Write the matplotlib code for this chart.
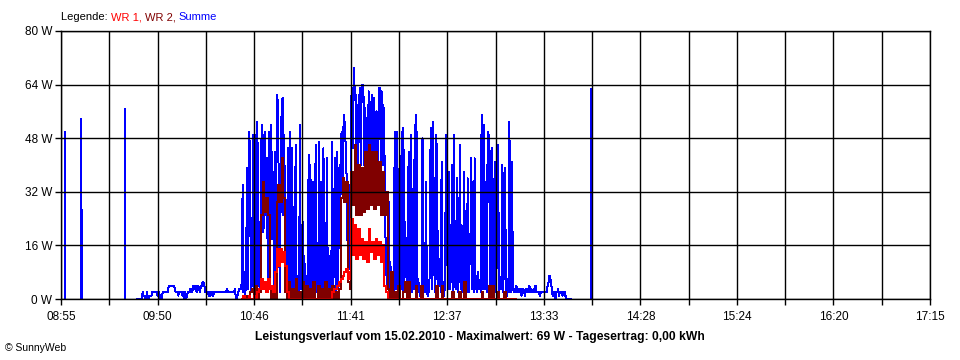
import numpy as np
import matplotlib
matplotlib.use('Agg')
import matplotlib.pyplot as plt

plt.rcParams['font.family'] = ['Liberation Sans', 'DejaVu Sans']

# Summe (W), 0,5-min-Raster ab Minute 44 nach 08:55
summe_start = 44.0
summe = [
    0, 0, 0, 0, 0, 0, 2, 1, 1, 0, 0, 2, 0, 0, 1, 1, 1, 2, 2, 2,
    2, 2, 2, 1, 2, 2, 0, 0, 0, 2, 2, 2, 2, 2, 2, 2, 4, 4, 4, 4,
    4, 4, 4, 3, 2, 2, 2, 1, 2, 2, 2, 2, 1, 2, 0, 2, 0, 1, 2, 2,
    2, 3, 2, 2, 4, 3, 4, 4, 2, 4, 4, 3, 2, 4, 4, 5, 5, 4, 2, 2,
    2, 2, 1, 2, 1, 2, 2, 1, 2, 2, 2, 2, 2, 2, 2, 2, 2, 2, 2, 2,
    2, 2, 2, 3, 2, 2, 2, 2, 2, 2, 2, 2, 3, 1, 0, 1, 2, 3, 3, 3,
    5, 34, 2, 8, 1, 6, 39, 3, 50, 47, 20, 2, 10, 49, 3, 49, 48, 2, 53, 4,
    23, 3, 37, 52, 41, 20, 49, 50, 25, 42, 4, 50, 24, 42, 52, 18, 38, 3, 44, 2,
    42, 61, 51, 15, 2, 42, 59, 60, 25, 49, 3, 11, 2, 45, 6, 2, 50, 3, 45, 2,
    12, 2, 46, 5, 1, 7, 2, 52, 3, 6, 23, 2, 13, 2, 7, 1, 4, 43, 2, 40,
    3, 10, 35, 2, 6, 46, 2, 15, 3, 47, 2, 35, 4, 2, 45, 3, 11, 2, 42, 3,
    13, 2, 8, 2, 47, 3, 9, 42, 2, 5, 44, 3, 39, 28, 47, 50, 30, 51, 55, 47,
    47, 30, 12, 10, 9, 30, 60, 63, 45, 69, 62, 61, 45, 58, 40, 59, 63, 40, 63, 64,
    63, 40, 57, 40, 54, 35, 62, 59, 40, 57, 61, 40, 60, 51, 40, 56, 55, 40, 63, 63,
    40, 62, 40, 58, 50, 23, 12, 3, 10, 29, 2, 11, 3, 1, 5, 2, 50, 3, 6, 50,
    2, 11, 3, 8, 50, 2, 51, 4, 23, 12, 2, 5, 44, 2, 7, 49, 2, 8, 3, 52,
    3, 55, 2, 6, 3, 1, 4, 2, 48, 3, 5, 2, 35, 3, 1, 2, 4, 43, 51, 3,
    53, 26, 2, 6, 49, 27, 2, 6, 12, 2, 41, 3, 5, 1, 6, 49, 33, 3, 38, 18,
    3, 12, 40, 2, 49, 18, 3, 9, 36, 2, 9, 46, 3, 22, 2, 9, 38, 3, 12, 2,
    36, 2, 10, 13, 42, 3, 35, 2, 42, 3, 7, 2, 8, 3, 5, 2, 55, 16, 3, 52,
    3, 24, 2, 50, 29, 49, 2, 8, 45, 3, 8, 41, 2, 6, 27, 46, 2, 6, 3, 7,
    40, 2, 21, 39, 3, 1, 6, 2, 53, 3, 2, 41, 4, 2, 3, 2, 4, 3, 2, 3,
    2, 3, 1, 2, 3, 2, 1, 3, 2, 3, 2, 4, 2, 3, 2, 2, 3, 2, 4, 2,
    2, 2, 2, 1, 2, 2, 2, 2, 2, 2, 2, 2, 4, 5, 7, 6, 5, 2, 1, 2,
    2, 0, 2, 2, 3, 1, 2, 2, 2, 1, 2, 2, 2, 0, 0, 0, 0, 0, 0, 0,
]

# WR 1 / WR 2 (W), 1-min-Raster ab Minute 104
wr_start = 104
wr1 = [
    0, 1, 0, 0, 1, 0, 0, 1, 0, 2,
    3, 6, 3, 5, 2, 6, 3, 4, 2, 8,
    15, 10, 15, 11, 14, 10, 2,
    0, 0, 0, 0, 0, 0, 0, 0, 0, 0, 0, 0, 0, 0, 0, 0, 0, 0, 0, 0, 0, 0, 0, 0, 0,
    2, 3, 3, 4, 5, 6, 7, 8, 9, 6, 8,
    24, 13, 22, 12, 21, 13, 18, 12, 17, 11, 21, 14, 17, 12, 18, 13, 17, 11, 16, 4, 2,
    0, 0, 0, 0, 0, 0, 0, 0, 0, 0, 0, 0, 0, 0, 0, 0, 0, 0, 0, 0, 0, 0, 0, 0, 0,
    0, 0, 0, 0, 0, 0, 0, 0, 0, 0, 0, 0, 0, 0, 0, 0, 0, 0, 0, 0, 0, 0, 0, 0, 0,
    0, 0, 0, 0, 0, 0, 0, 0, 0, 0, 0, 0, 0, 0, 0, 0, 0, 0, 0, 0, 0, 0, 0, 0, 0,
]
wr2 = [
    0, 0, 1, 0, 0, 2,
    3, 0, 4, 0, 2,
    25, 35, 26, 30, 25,
    3, 0, 4, 0,
    29, 34, 29, 42, 30,
    2,
    0, 5, 0, 3, 0, 6, 0, 2, 0, 5, 0, 4, 0, 3, 0, 5, 0, 0, 4, 0, 3, 0, 5, 0, 3, 0, 4, 0, 2, 0, 3,
    30, 36, 29, 35, 5,
    3,
    38, 28, 46, 25, 40, 25, 39, 26, 44, 27, 46, 28, 44, 27, 44, 28, 41, 25, 38, 25, 32,
    3, 0, 8, 0, 2, 0, 4, 0, 0, 2,
    5, 0, 5, 0, 0, 0, 4, 0, 0, 4,
    0, 0, 0, 0, 0, 0, 0, 0, 4, 0,
    0, 4, 0, 0, 0, 0, 0, 2, 0, 0,
    0, 2, 0, 0, 5, 0, 0, 0, 0, 0,
    0, 0, 0, 0, 2, 0, 0, 0, 4, 0,
    4, 0, 0, 2, 0, 0, 0, 2, 0, 0,
    0, 0, 0, 0, 0,
]

# einzelne Spitzen der Summe
spike_min = [2.5, 11.5, 12.0, 37.0, 305.0]
spike_w = [50, 54, 27, 57, 63]

x_labels = ['08:55', '09:50', '10:46', '11:41', '12:37',
            '13:33', '14:28', '15:24', '16:20', '17:15']
y_ticks = [0, 16, 32, 48, 64, 80]
day_len = 500  # Minuten 08:55 .. 17:15

C_SUM = '#0000ff'
C_WR1 = '#ff0000'
C_WR2 = '#800000'

fig = plt.figure(figsize=(9.6, 3.6), dpi=100)
ax = fig.add_axes([61 / 960, 61 / 360, 869 / 960, 268 / 360])

t_sum = summe_start + 0.5 * np.arange(len(summe))
t_wr = wr_start + np.arange(len(wr1))

ax.plot(t_sum, summe, color=C_SUM, lw=0.72, antialiased=False, zorder=2)
ax.vlines(spike_min, 0, spike_w, color=C_SUM, lw=1.2, antialiased=False, zorder=2)
ax.plot(t_wr, wr2, color=C_WR2, lw=1.3, drawstyle='steps-post',
        antialiased=False, zorder=2.1)
ax.plot(t_wr, wr1, color=C_WR1, lw=1.1, drawstyle='steps-post',
        antialiased=False, zorder=2.2)

ax.set_xlim(0, day_len)
ax.set_ylim(0, 80)
xt = np.linspace(0, day_len, 19)
ax.set_xticks(xt)
ax.set_xticklabels([x_labels[i // 2] if i % 2 == 0 else '' for i in range(19)])
ax.set_yticks(y_ticks)
ax.set_yticklabels(['%d W' % v for v in y_ticks])
ax.tick_params(axis='both', direction='out', length=4.3, width=1, color='black',
               labelsize=8.5)
ax.tick_params(axis='x', pad=4)
ax.tick_params(axis='y', pad=2)
ax.set_axisbelow(False)
ax.grid(True, color='black', lw=1)
for s in ax.spines.values():
    s.set_linewidth(1)
    s.set_color('black')

# Legende, mehrfarbig
t0 = fig.text(61 / 960, 1 - 17 / 360, 'Legende: ', fontsize=8, color='black', va='center')
t1 = ax.annotate('WR 1, ', xy=(1, 0), xycoords=t0, fontsize=8, color=C_WR1, va='bottom')
t2 = ax.annotate('WR 2, ', xy=(1, 0), xycoords=t1, fontsize=8, color=C_WR2, va='bottom')
ax.annotate('Summe', xy=(1, 0), xycoords=t2, fontsize=8, color=C_SUM, va='bottom')

fig.text(0.5, 1 - 337 / 360,
         'Leistungsverlauf vom 15.02.2010 - Maximalwert: 69 W - Tagesertrag: 0,00 kWh',
         ha='center', va='center', fontsize=8.7, fontweight='bold')
fig.text(5 / 960, 1 - 348 / 360, '\u00a9 SunnyWeb', ha='left', va='center', fontsize=7.5)

fig.savefig('out.png', dpi=100)
